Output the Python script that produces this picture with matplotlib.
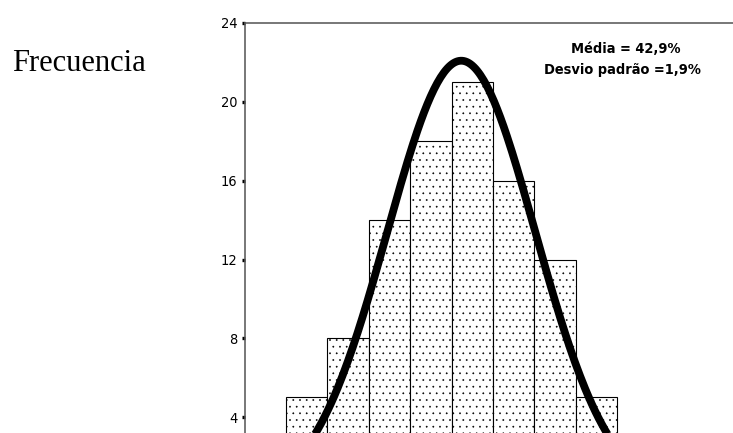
#Histogram with fitted normal curve (SPSS style), cropped view
import matplotlib.pyplot as plt
import numpy as np

counts = [5, 8, 14, 18, 21, 16, 12, 5]
bin_edges = [38.4, 39.4625, 40.525, 41.5875, 42.65, 43.7125, 44.775, 45.8375, 46.9]
mean = 42.9
sd = 1.9
yticks = [4, 8, 12, 16, 20, 24]

narrow = ['Liberation Sans Narrow', 'DejaVu Sans']

fig = plt.figure(figsize=(733 / 80, 433 / 80), dpi=80)
ax = fig.add_axes([245 / 733, -63 / 433, 535 / 733, 473 / 433])

plt.rcParams['hatch.linewidth'] = 0.4
widths = np.diff(bin_edges)
ax.bar(bin_edges[:-1], counts, width=widths, align='edge',
       facecolor='white', edgecolor='black', linewidth=1.0, hatch='..', zorder=2)

# normal curve scaled to the counts
n = sum(counts)
x = np.linspace(35, 52, 400)
y = n * widths[0] / (sd * np.sqrt(2 * np.pi)) * np.exp(-(x - mean) ** 2 / (2 * sd ** 2))
ax.plot(x, y, color='black', linewidth=7, solid_capstyle='butt', zorder=3)

ax.set_xlim(37.35, 51.08)
ax.set_ylim(0, 24)
ax.set_yticks(yticks)
ax.set_xticks([])
ax.tick_params(axis='y', length=3, width=3, pad=4, labelsize=13, direction='out')
for lab in ax.get_yticklabels():
    lab.set_family(narrow)
    lab.set_stretch('condensed')
for side in ['left', 'top', 'right', 'bottom']:
    ax.spines[side].set_color('#555555')
    ax.spines[side].set_linewidth(1.4)

fig.text(626 / 733, 1 - 53 / 433, 'Média = 42,9%', ha='center', va='baseline',
         fontsize=13, fontweight='bold', family=narrow, stretch='condensed')
fig.text(622 / 733, 1 - 74 / 433, 'Desvio padrão =1,9%', ha='center', va='baseline',
         fontsize=13, fontweight='bold', family=narrow, stretch='condensed')

fig.text(12 / 733, 1 - 71 / 433, 'Frecuencia', ha='left', va='baseline',
         fontsize=27.5, family=['Liberation Serif', 'DejaVu Serif'])

fig.savefig('out.png', dpi=80)
